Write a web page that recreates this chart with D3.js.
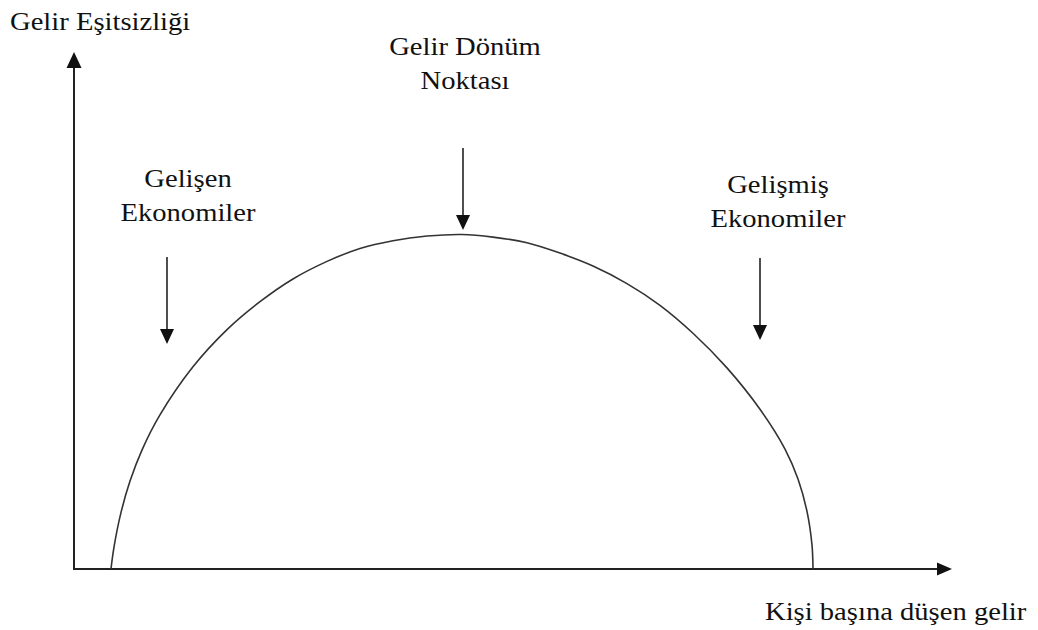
<!DOCTYPE html>
<html>
<head>
<meta charset="utf-8">
<script src="https://cdn.jsdelivr.net/npm/d3@7"></script>
<style>
  body { margin: 0; background: #fff; }
  svg text { font-family: "Liberation Serif", "Times New Roman", serif; font-size: 26px; fill: #111; }
</style>
</head>
<body>
<div id="chart"></div>
<script>
// curve (income per head vs. inequality, arbitrary units)
const income = [4.21, 4.56, 5.35, 6.38, 7.74, 9.79, 13.55, 17.43, 21.18, 24.94, 28.82, 32.57, 36.33, 40.21, 44.19,
  47.72, 51.59, 55.35, 59.11, 62.98, 66.74, 70.50, 74.37, 78.13, 80.98, 82.46, 83.49, 84.05, 84.17];
const inequality = [0, 4.3, 10.9, 17.0, 23.0, 29.8, 39.1, 46.3, 51.7, 56.1, 59.5, 62.0, 63.5, 64.4, 64.7,
  64.2, 63.1, 61.1, 58.6, 55.2, 51.0, 45.6, 38.9, 30.9, 23.2, 17.4, 11.1, 4.7, 0];

const yTitle = 'Gelir Eşitsizliği';
const xTitle = 'Kişi başına düşen gelir';

// annotation labels
const notes = [
  ['Gelişen', 'Ekonomiler'],
  ['Gelir Dönüm', 'Noktası'],
  ['Gelişmiş', 'Ekonomiler'],
];

const width = 1038;
const height = 630;

const x = d3.scaleLinear().domain([0, 100]).range([74, 952]);
const y = d3.scaleLinear().domain([0, 100]).range([569, 52]);

const svg = d3.select('#chart').append('svg')
  .attr('width', width)
  .attr('height', height);

// filled triangle pointing in direction (dx, dy) with tip at (tx, ty)
const arrowHead = (tx, ty, dx, dy, len, half) => {
  const bx = tx - dx * len;
  const by = ty - dy * len;
  return `M${tx},${ty}L${bx - dy * half},${by + dx * half}L${bx + dy * half},${by - dx * half}Z`;
};

// axes
svg.append('line')
  .attr('x1', x(0)).attr('y1', y(0))
  .attr('x2', x(0)).attr('y2', y(100) + 14)
  .attr('stroke', '#222').attr('stroke-width', 2);
svg.append('path')
  .attr('d', arrowHead(x(0), y(100), 0, -1, 16, 7.5))
  .attr('fill', '#111');

svg.append('line')
  .attr('x1', x(0) - 1).attr('y1', y(0))
  .attr('x2', x(100) - 14).attr('y2', y(0))
  .attr('stroke', '#222').attr('stroke-width', 2);
svg.append('path')
  .attr('d', arrowHead(x(100), y(0), 1, 0, 15, 6.5))
  .attr('fill', '#111');

// the curve
const pts = income.map((d, i) => [d, inequality[i]]);
const line = d3.line()
  .x(d => x(d[0]))
  .y(d => y(d[1]))
  .curve(d3.curveCatmullRom.alpha(0.5));

svg.append('path')
  .datum(pts)
  .attr('d', line)
  .attr('fill', 'none')
  .attr('stroke', '#333')
  .attr('stroke-width', 1.6);

// text helper: slightly wide serif like the scan
const addText = (str, tx, ty, anchor) => {
  svg.append('text')
    .attr('transform', `translate(${tx},${ty}) scale(1.1,1)`)
    .attr('text-anchor', anchor)
    .text(str);
};

addText(yTitle, 10, 30, 'start');
addText(xTitle, 765, 620, 'start');

const labelPos = [
  { cx: 188, top: 187, a0: 257, a1: 344, ax: 167 },
  { cx: 465, top: 55, a0: 148, a1: 230, ax: 463 },
  { cx: 778, top: 193, a0: 258, a1: 340, ax: 760 },
];

notes.forEach((lines, i) => {
  const p = labelPos[i];
  lines.forEach((t, j) => addText(t, p.cx, p.top + j * 34, 'middle'));
  svg.append('line')
    .attr('x1', p.ax).attr('y1', p.a0)
    .attr('x2', p.ax).attr('y2', p.a1 - 12)
    .attr('stroke', '#222').attr('stroke-width', 1.6);
  svg.append('path')
    .attr('d', arrowHead(p.ax, p.a1, 0, 1, 15, 7))
    .attr('fill', '#111');
});
</script>
</body>
</html>
